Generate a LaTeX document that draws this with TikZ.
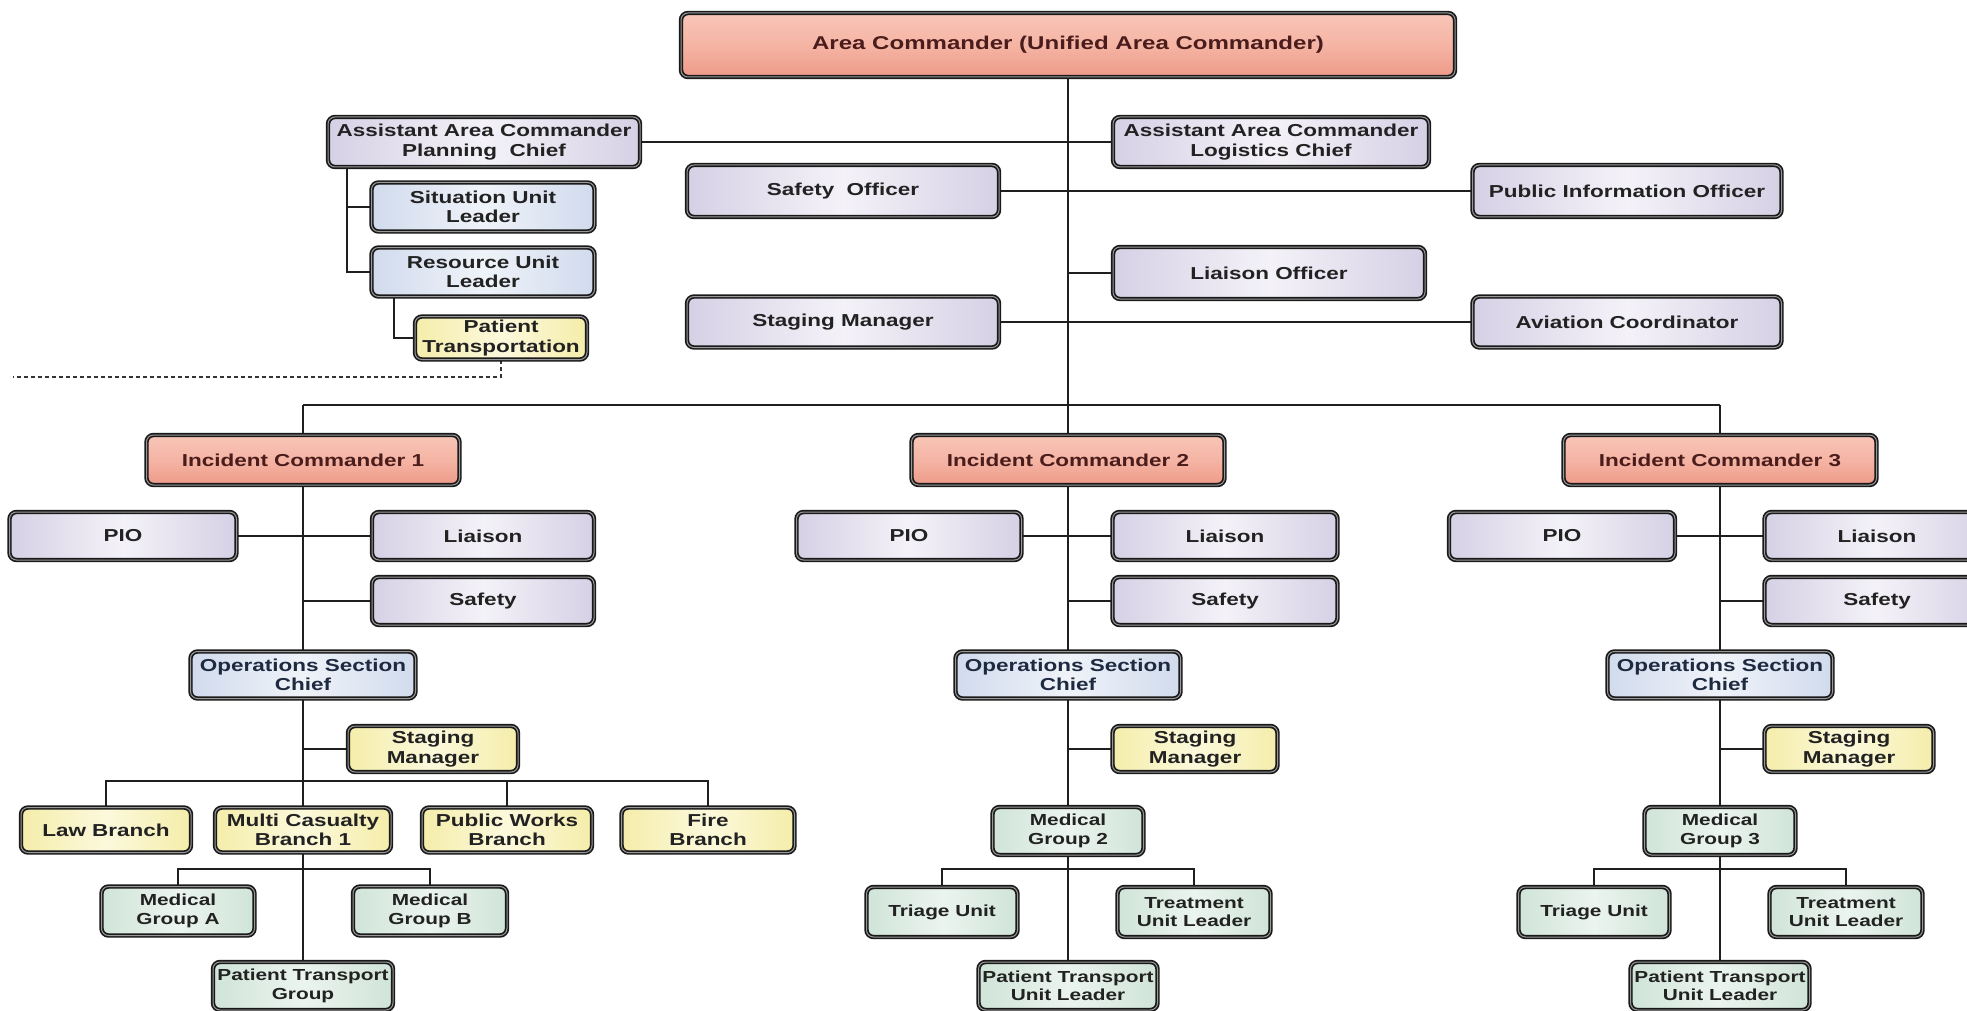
\documentclass[tikz,border=0pt]{standalone}
\usepackage{fontspec}
\newfontfamily\boxfont{Liberation Sans}[FakeStretch=1.3]
\usetikzlibrary{backgrounds}

\definecolor{salTop}{HTML}{F8C6B8}
\definecolor{salBot}{HTML}{EE9A88}
\definecolor{salMid}{HTML}{F5B4A4}
\definecolor{lavEdge}{HTML}{D6D0E5}
\definecolor{lavMid}{HTML}{F4F2F8}
\definecolor{bluEdge}{HTML}{D1DBED}
\definecolor{bluMid}{HTML}{EFF3F9}
\definecolor{yelEdge}{HTML}{F5EDAA}
\definecolor{yelMid}{HTML}{FCF9DC}
\definecolor{grnEdge}{HTML}{D0E4D8}
\definecolor{grnMid}{HTML}{EBF4EF}
\definecolor{inkMain}{HTML}{222222}
\definecolor{inkTitle}{HTML}{4A1C1C}
\definecolor{inkOps}{HTML}{1E2A40}

\tikzset{
  orgbox/.style={rounded corners=7pt, draw=black!90, line width=1.7pt,
    double=black!40, double distance=1.0pt, inner sep=2pt, align=center,
    text=inkMain, font=\boxfont\bfseries\fontsize{17.3}{19.5}\selectfont},
  salmonbox/.style={orgbox, top color=salTop, bottom color=salBot, middle color=salMid,
    text=inkTitle, minimum height=50pt},
  lavbox/.style={orgbox, left color=lavEdge, right color=lavEdge, middle color=lavMid},
  bluebox/.style={orgbox, left color=bluEdge, right color=bluEdge, middle color=bluMid},
  yelbox/.style={orgbox, left color=yelEdge, right color=yelEdge, middle color=yelMid},
  grnbox/.style={orgbox, left color=grnEdge, right color=grnEdge, middle color=grnMid,
    font=\boxfont\bfseries\fontsize{16}{18.5}\selectfont},
  link/.style={draw=black!88, line width=2.3pt},
  dashlink/.style={draw=black!80, line width=1.5pt, dash pattern=on 4pt off 3pt},
}

\begin{document}
\begin{tikzpicture}[x=1pt, y=-1pt]
\useasboundingbox (0,0) rectangle (1967,1011);
\clip (0,0) rectangle (1967,1011);

% ---------------- area command level ----------------
\node[salmonbox, minimum width=774pt, minimum height=64pt,
      font=\boxfont\bfseries\fontsize{18.5}{21}\selectfont] (ac) at (1068,45)
      {Area Commander (Unified Area Commander)};

\node[lavbox, minimum width=312pt, minimum height=50pt] (plan) at (484,142)
      {Assistant Area Commander\\Planning\ \ Chief};
\node[lavbox, minimum width=316pt, minimum height=50pt] (logi) at (1271,142)
      {Assistant Area Commander\\Logistics Chief};
\node[lavbox, minimum width=312pt, minimum height=52pt] (safeO) at (843,191) {Safety\ \ Officer};
\node[lavbox, minimum width=309pt, minimum height=52pt] (pubO) at (1627,191) {Public Information Officer};
\node[lavbox, minimum width=312pt, minimum height=52pt] (liaO) at (1269,273) {Liaison Officer};
\node[lavbox, minimum width=312pt, minimum height=51pt] (stagO) at (843,322) {Staging Manager};
\node[lavbox, minimum width=309pt, minimum height=51pt] (aviO) at (1627,322) {Aviation Coordinator};

\node[bluebox, minimum width=223pt, minimum height=49pt] (situ) at (483,207) {Situation Unit\\Leader};
\node[bluebox, minimum width=223pt, minimum height=49pt] (reso) at (483,272) {Resource Unit\\Leader};
\node[yelbox, minimum width=172pt, minimum height=43pt, inner sep=1pt] (ptrans) at (501,338) {Patient\\Transportation};

\coordinate (dashL) at (13,377);
\coordinate (busL) at (303,405);
\coordinate (busM) at (1068,405);
\coordinate (busR) at (1720,405);

% ---------------- incident commanders ----------------
\node[salmonbox, minimum width=313pt] (ic1) at (303,460) {Incident Commander 1};
\node[salmonbox, minimum width=313pt] (ic2) at (1068,460) {Incident Commander 2};
\node[salmonbox, minimum width=313pt] (ic3) at (1720,460) {Incident Commander 3};

% ---------------- column 1 ----------------
\node[lavbox, minimum width=227pt, minimum height=48pt] (pio1) at (123,536) {PIO};
\node[lavbox, minimum width=222pt, minimum height=48pt] (lia1) at (483,536) {Liaison};
\node[lavbox, minimum width=222pt, minimum height=48pt] (saf1) at (483,601) {Safety};
\node[bluebox, minimum width=225pt, minimum height=47pt, text=inkOps] (ops1) at (303,675) {Operations Section\\Chief};
\node[yelbox, minimum width=170pt, minimum height=46pt] (stg1) at (433,749) {Staging\\Manager};
\node[yelbox, minimum width=170pt, minimum height=45pt] (law) at (106,830) {Law Branch};
\node[yelbox, minimum width=176pt, minimum height=45pt] (mcb) at (303,830) {Multi Casualty\\Branch 1};
\node[yelbox, minimum width=170pt, minimum height=45pt] (pwb) at (507,830) {Public Works\\Branch};
\node[yelbox, minimum width=173pt, minimum height=45pt] (fire) at (708,830) {Fire\\Branch};
\node[grnbox, minimum width=153pt, minimum height=49pt] (mga) at (178,911) {Medical\\Group A};
\node[grnbox, minimum width=154pt, minimum height=49pt] (mgb) at (430,911) {Medical\\Group B};
\node[grnbox, minimum width=180pt, minimum height=48pt] (ptg) at (303,986) {Patient Transport\\Group};

% ---------------- column 2 ----------------
\node[lavbox, minimum width=225pt, minimum height=48pt] (pio2) at (909,536) {PIO};
\node[lavbox, minimum width=225pt, minimum height=48pt] (lia2) at (1225,536) {Liaison};
\node[lavbox, minimum width=225pt, minimum height=48pt] (saf2) at (1225,601) {Safety};
\node[bluebox, minimum width=225pt, minimum height=47pt, text=inkOps] (ops2) at (1068,675) {Operations Section\\Chief};
\node[yelbox, minimum width=165pt, minimum height=46pt] (stg2) at (1195,749) {Staging\\Manager};
\node[grnbox, minimum width=151pt, minimum height=48pt] (mg2) at (1068,831) {Medical\\Group 2};
\node[grnbox, minimum width=151pt, minimum height=50pt] (tri2) at (942,912) {Triage Unit};
\node[grnbox, minimum width=153pt, minimum height=50pt] (trt2) at (1194,912) {Treatment\\Unit Leader};
\node[grnbox, minimum width=179pt, minimum height=48pt] (ptu2) at (1068,986) {Patient Transport\\Unit Leader};

% ---------------- column 3 ----------------
\node[lavbox, minimum width=226pt, minimum height=48pt] (pio3) at (1562,536) {PIO};
\node[lavbox, minimum width=225pt, minimum height=48pt] (lia3) at (1877,536) {Liaison};
\node[lavbox, minimum width=225pt, minimum height=48pt] (saf3) at (1877,601) {Safety};
\node[bluebox, minimum width=225pt, minimum height=47pt, text=inkOps] (ops3) at (1720,675) {Operations Section\\Chief};
\node[yelbox, minimum width=169pt, minimum height=46pt] (stg3) at (1849,749) {Staging\\Manager};
\node[grnbox, minimum width=151pt, minimum height=48pt] (mg3) at (1720,831) {Medical\\Group 3};
\node[grnbox, minimum width=151pt, minimum height=50pt] (tri3) at (1594,912) {Triage Unit};
\node[grnbox, minimum width=153pt, minimum height=50pt] (trt3) at (1846,912) {Treatment\\Unit Leader};
\node[grnbox, minimum width=179pt, minimum height=48pt] (ptu3) at (1720,986) {Patient Transport\\Unit Leader};

% ---------------- connectors (behind the boxes) ----------------
\begin{pgfonlayer}{background}
  % command spine and bus
  \draw[link] (ac.south) -- (busM);
  \draw[link] (busL) -- (busR);
  \draw[link] (busL) -- (ic1.north);
  \draw[link] (busM) -- (ic2.north);
  \draw[link] (busR) -- (ic3.north);
  \draw[link] (plan.east) -- (logi.west);
  \draw[link] (safeO.east) -- (pubO.west);
  \draw[link] (stagO.east) -- (aviO.west);
  \draw[link] (liaO.west) -- (liaO.west -| ac.south);
  % planning section
  \draw[link] ([xshift=20pt]plan.south west) |- (situ.west);
  \draw[link] ([xshift=20pt]plan.south west) |- (reso.west);
  \draw[link] ([xshift=23pt]reso.south west) |- (ptrans.west);
  \draw[dashlink] (ptrans.south) |- (dashL);

  % column 1
  \draw[link] (ic1.south) -- (ptg.north);
  \draw[link] (pio1.east) -- (lia1.west);
  \draw[link] (saf1.west) -- (saf1.west -| ic1.south);
  \draw[link] (stg1.west) -- (stg1.west -| ic1.south);
  \draw[link] (law.north) -- ++(0,-26) -| (fire.north);
  \draw[link] (pwb.north) -- ++(0,-26);
  \draw[link] (mga.north) -- ++(0,-17) -| (mgb.north);

  % column 2
  \draw[link] (ic2.south) -- (ptu2.north);
  \draw[link] (pio2.east) -- (lia2.west);
  \draw[link] (saf2.west) -- (saf2.west -| ic2.south);
  \draw[link] (stg2.west) -- (stg2.west -| ic2.south);
  \draw[link] (tri2.north) -- ++(0,-17) -| (trt2.north);

  % column 3
  \draw[link] (ic3.south) -- (ptu3.north);
  \draw[link] (pio3.east) -- (lia3.west);
  \draw[link] (saf3.west) -- (saf3.west -| ic3.south);
  \draw[link] (stg3.west) -- (stg3.west -| ic3.south);
  \draw[link] (tri3.north) -- ++(0,-17) -| (trt3.north);
\end{pgfonlayer}
\end{tikzpicture}
\end{document}
